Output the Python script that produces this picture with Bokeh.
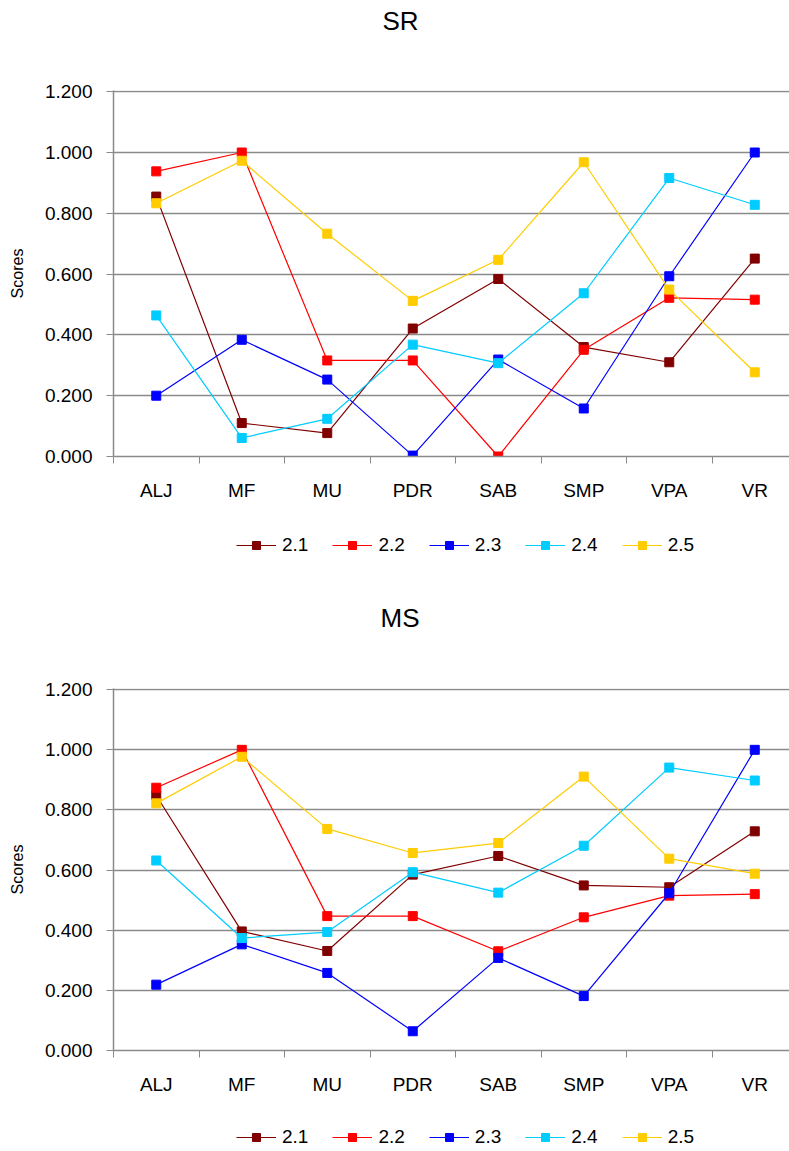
from bokeh.plotting import figure
from bokeh.models import (Range1d, FixedTicker, Legend, LegendItem, PrintfTickFormatter)
from bokeh.layouts import column
from bokeh.embed import file_html
from bokeh.resources import INLINE

categories = ["ALJ", "MF", "MU", "PDR", "SAB", "SMP", "VPA", "VR"]
series_names = ["2.1", "2.2", "2.3", "2.4", "2.5"]
series_colors = ["#800000", "#FF0000", "#0000FF", "#00CCFF", "#FFCC00"]
y_ticks = [0.0, 0.2, 0.4, 0.6, 0.8, 1.0, 1.2]

sr_21 = [0.855, 0.110, 0.077, 0.421, 0.584, 0.360, 0.310, 0.651]
sr_22 = [0.938, 1.000, 0.316, 0.316, 0.000, 0.351, 0.522, 0.516]
sr_23 = [0.200, 0.384, 0.253, 0.003, 0.319, 0.158, 0.593, 1.000]
sr_24 = [0.464, 0.061, 0.124, 0.368, 0.307, 0.537, 0.916, 0.828]
sr_25 = [0.833, 0.973, 0.733, 0.512, 0.647, 0.968, 0.549, 0.277]

ms_21 = [0.848, 0.396, 0.331, 0.585, 0.647, 0.549, 0.543, 0.729]
ms_22 = [0.874, 1.000, 0.447, 0.447, 0.330, 0.443, 0.515, 0.520]
ms_23 = [0.219, 0.353, 0.258, 0.064, 0.308, 0.181, 0.523, 1.000]
ms_24 = [0.632, 0.374, 0.394, 0.593, 0.525, 0.681, 0.941, 0.898]
ms_25 = [0.822, 0.977, 0.737, 0.657, 0.690, 0.911, 0.638, 0.588]

FONT = "Liberation Sans"
GRID = "#8a8a8a"
W = 789
LEFT = 113
XS = [i + 0.5 for i in range(len(categories))]


def blank(height, y_range=(0, 1)):
    f = figure(width=W, height=height, output_backend="svg", toolbar_location=None,
               x_axis_type=None, y_axis_type=None, x_range=Range1d(0, 1),
               y_range=Range1d(*y_range),
               min_border_left=LEFT, min_border_right=0,
               min_border_top=0, min_border_bottom=0)
    f.outline_line_color = None
    f.xgrid.visible = False
    f.ygrid.visible = False
    return f


def header(title, height, standoff, offset):
    h = blank(height)
    h.title.text = title
    h.title.align = "left"
    h.title.offset = offset
    h.title.text_font = FONT
    h.title.text_font_size = "26px"
    h.title.text_font_style = "normal"
    h.title.text_color = "#000000"
    h.title.standoff = standoff
    return h


def legend_fig(series, height, loc_y):
    # the legend lives in its own strip; its glyph renderers hold the series
    # but sit outside this strip's visible y range, so only the legend shows
    f = blank(height, y_range=(5, 6))
    items = []
    for name, color, vals in zip(series_names, series_colors, series):
        r1 = f.line(XS, vals, line_color=color, line_width=1.2)
        r2 = f.scatter(XS, vals, marker="square", size=9, fill_color=color, line_color=color)
        items.append(LegendItem(label=name, renderers=[r1, r2]))
    leg = Legend(items=items, orientation="horizontal", location=(123, loc_y))
    leg.border_line_color = None
    leg.background_fill_alpha = 0
    leg.label_text_font = FONT
    leg.label_text_font_size = "19px"
    leg.label_text_color = "#000000"
    leg.glyph_width = 40
    leg.glyph_height = 20
    leg.label_standoff = 6
    leg.spacing = 24
    leg.padding = 0
    leg.margin = 0
    f.add_layout(leg, "center")
    return f


def chart(series, height, border_top, frame_h):
    frame_w = W - LEFT
    slot = 85.5
    p = figure(width=W, height=height, output_backend="svg", toolbar_location=None,
               x_range=Range1d(0, frame_w / slot), y_range=Range1d(0, 1.204),
               min_border_left=LEFT, min_border_right=0, min_border_top=border_top,
               min_border_bottom=height - border_top - frame_h)
    p.outline_line_color = None

    xa = p.xaxis[0]
    xa.ticker = FixedTicker(ticks=XS, minor_ticks=list(range(len(categories) + 1)))
    xa.major_label_overrides = {x: c for x, c in zip(XS, categories)}
    xa.major_tick_out = 0
    xa.major_tick_in = 0
    xa.minor_tick_out = 7
    xa.minor_tick_in = 0
    xa.minor_tick_line_color = GRID
    xa.axis_line_color = GRID
    xa.axis_line_width = 1.5
    xa.major_label_text_font = FONT
    xa.major_label_text_font_size = "19px"
    xa.major_label_text_color = "#000000"
    xa.major_label_standoff = 16

    ya = p.yaxis[0]
    ya.ticker = FixedTicker(ticks=y_ticks, minor_ticks=[])
    ya.formatter = PrintfTickFormatter(format="%.3f")
    ya.major_tick_out = 7
    ya.major_tick_in = 0
    ya.major_tick_line_color = GRID
    ya.axis_line_color = GRID
    ya.axis_line_width = 1.5
    ya.major_label_text_font = FONT
    ya.major_label_text_font_size = "19px"
    ya.major_label_text_color = "#000000"
    ya.major_label_standoff = 14
    ya.axis_label = "Scores"
    ya.axis_label_text_font = FONT
    ya.axis_label_text_font_size = "16px"
    ya.axis_label_text_font_style = "normal"
    ya.axis_label_text_color = "#000000"
    ya.axis_label_standoff = 16

    p.xgrid.visible = False
    p.ygrid.ticker = FixedTicker(ticks=y_ticks)
    p.ygrid.grid_line_color = GRID
    p.ygrid.grid_line_width = 1.3

    for name, color, vals in zip(series_names, series_colors, series):
        p.line(XS, vals, line_color=color, line_width=1.2)
        p.scatter(XS, vals, marker="square", size=9, fill_color=color, line_color=color)
    return p


sr = [sr_21, sr_22, sr_23, sr_24, sr_25]
ms = [ms_21, ms_22, ms_23, ms_24, ms_25]

h1 = header("SR", 50, 6, 269)
p1 = chart(sr, 475, 40, 366)
l1 = legend_fig(sr, 65, 34)
h2 = header("MS", 60, 20, 267)
p2 = chart(ms, 467, 38, 362)
l2 = legend_fig(ms, 32, 1)

layout = column(h1, p1, l1, h2, p2, l2, spacing=0)
open("out.html", "w").write(file_html(layout, INLINE))
